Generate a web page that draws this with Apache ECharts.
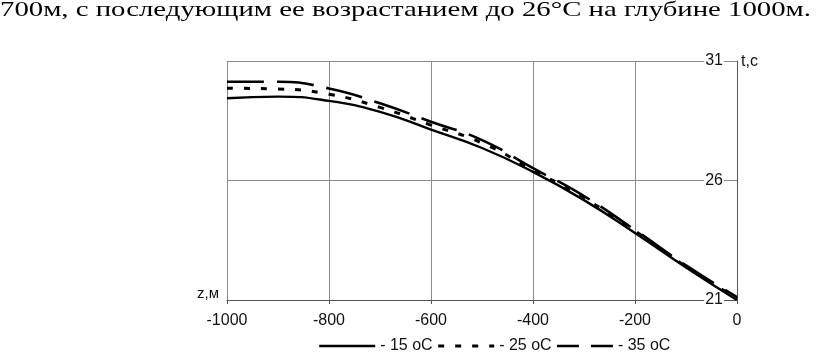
<!DOCTYPE html>
<html><head><meta charset="utf-8">
<script src="https://cdn.jsdelivr.net/npm/echarts@6/dist/echarts.min.js"></script>
<style>html,body{margin:0;padding:0;background:#fff;}#c{width:820px;height:354px;}</style>
</head><body><div id="c"></div>
<script>
const depths = [-1000, -900, -800, -700, -600, -500, -400, -300, -200, -100, 0];
const t15 = [29.44, 29.51, 29.33, 28.87, 28.13, 27.36, 26.36, 25.18, 23.80, 22.36, 21.0];
const t25 = [29.86, 29.83, 29.61, 29.06, 28.32, 27.57, 26.44, 25.27, 23.89, 22.40, 21.06];
const t35 = [30.13, 30.13, 29.85, 29.23, 28.46, 27.69, 26.52, 25.35, 23.93, 22.45, 21.12];
const seriesNames = ['- 15 oC', '- 25 oC', '- 35 oC'];
const xTicks = [-1000, -800, -600, -400, -200, 0];
const yTicks = [21, 26, 31];
const headText = '700м, с последующим ее возрастанием до 26°С на глубине 1000м.';

const chart = echarts.init(document.getElementById('c'), null, {renderer: 'canvas'});
const zip = arr => depths.map((d, i) => [d, arr[i]]);

const cv = document.createElement('canvas').getContext('2d');
cv.font = '21px "Liberation Serif"';
const hw = cv.measureText(headText).width;
const sx = 811 / hw;

const styles = [
  {type: 'solid', width: 2.4},
  {type: [6, 11], width: 3},
  {type: [37, 13], width: 2.6}
];
const legendStyles = [
  {type: 'solid', width: 2.4},
  {type: [6, 11], width: 3},
  {type: [22, 12], width: 2.6}
];
const datasets = [t15, t25, t35];

chart.setOption({
  animation: false,
  grid: {left: 227, right: 83, top: 61, bottom: 54},
  xAxis: {
    type: 'value', min: -1000, max: 0, interval: 200,
    axisLine: {show: true, onZero: false, lineStyle: {color: '#555', width: 1}},
    axisTick: {show: true, length: 4, lineStyle: {color: '#555'}},
    axisLabel: {color: '#111', fontSize: 16, fontFamily: 'Liberation Sans, Arial', margin: 13,
      formatter: v => String(v)},
    splitLine: {show: true, lineStyle: {color: '#8a8a8a', width: 1}}
  },
  yAxis: {
    type: 'value', min: 21, max: 31, interval: 5, position: 'right',
    axisLine: {show: true, lineStyle: {color: '#555', width: 1}},
    axisTick: {show: false},
    axisLabel: {inside: true, color: '#111', fontSize: 16, fontFamily: 'Liberation Sans, Arial', margin: 13,
      backgroundColor: '#fff', padding: [0, 1], formatter: v => String(v)},
    splitLine: {show: true, lineStyle: {color: '#8a8a8a', width: 1}}
  },
  legend: {
    left: 313, top: 333, itemWidth: 56, itemHeight: 10, itemGap: 4,
    textStyle: {color: '#111', fontSize: 16, fontFamily: 'Liberation Sans, Arial'},
    data: seriesNames.map((n, i) => ({name: n, lineStyle: legendStyles[i],
      itemStyle: {opacity: 0, borderWidth: 0, color: 'rgba(0,0,0,0)'}}))
  },
  series: seriesNames.map((n, i) => ({
    name: n, type: 'line', smooth: true, symbol: 'none', showSymbol: false,
    lineStyle: Object.assign({color: '#000', cap: 'butt'}, styles[i]),
    itemStyle: {color: '#000'},
    data: zip(datasets[i])
  })),
  graphic: [
    {type: 'text', left: 0, top: 0, z: 10,
      style: {text: headText, x: 0, y: 9, fill: '#000', font: '21px "Liberation Serif"', verticalAlign: 'middle', align: 'left'},
      scaleX: sx},
    {type: 'text', z: 10, style: {text: 't,c', x: 741, y: 62, fill: '#111', font: '16px "Liberation Sans"', verticalAlign: 'middle', align: 'left'}},
    {type: 'text', z: 10, style: {text: 'z,м', x: 219, y: 294, fill: '#111', font: '15px "Liberation Sans"', verticalAlign: 'middle', align: 'right'}}
  ]
});
</script></body></html>
